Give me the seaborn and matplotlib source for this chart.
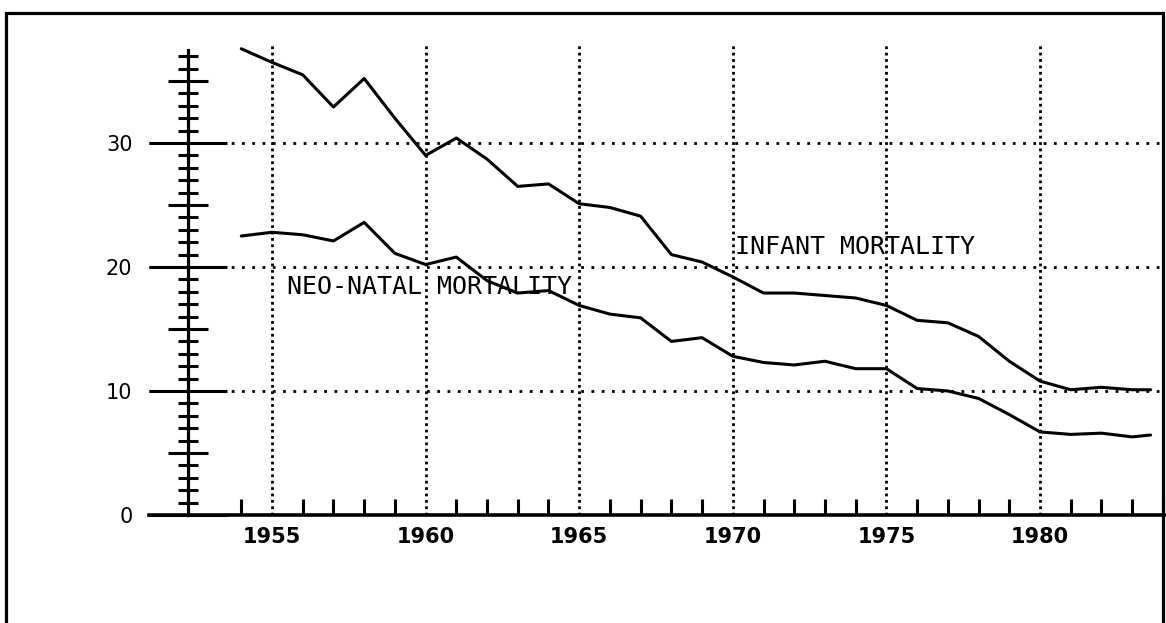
import matplotlib
matplotlib.use("Agg")
import matplotlib.pyplot as plt
import seaborn as sns
import pandas as pd
from matplotlib.patches import Rectangle

# ---------------- data ----------------
years = [1954, 1955, 1956, 1957, 1958, 1959, 1960, 1961, 1962, 1963,
         1964, 1965, 1966, 1967, 1968, 1969, 1970, 1971, 1972, 1973,
         1974, 1975, 1976, 1977, 1978, 1979, 1980, 1981, 1982, 1983, 1983.6]
infant = [37.6, 36.5, 35.5, 32.9, 35.2, 32.0, 29.0, 30.4, 28.7, 26.5,
          26.7, 25.1, 24.8, 24.1, 21.0, 20.4, 19.2, 17.9, 17.9, 17.7,
          17.5, 16.9, 15.7, 15.5, 14.4, 12.4, 10.8, 10.1, 10.3, 10.1, 10.1]
neonatal = [22.5, 22.8, 22.6, 22.1, 23.6, 21.1, 20.2, 20.8, 18.9, 17.9,
            18.1, 16.9, 16.2, 15.9, 14.0, 14.3, 12.8, 12.3, 12.1, 12.4,
            11.8, 11.8, 10.2, 10.0, 9.4, 8.1, 6.7, 6.5, 6.6, 6.3, 6.45]

y_major = [0, 10, 20, 30]
y_medium = [5, 15, 25, 35]
y_minor = [v for v in range(1, 38) if v % 5 != 0]
x_major = [1955, 1960, 1965, 1970, 1975, 1980]
x_labels = ["1955", "1960", "1965", "1970", "1975", "1980"]
x_minor = [y for y in range(1954, 1985) if y % 5 != 0]

label_infant = "INFANT MORTALITY"
label_neo = "NEO-NATAL MORTALITY"

df = pd.DataFrame({
    "year": years * 2,
    "rate": infant + neonatal,
    "series": [label_infant] * len(years) + [label_neo] * len(years),
})

# ---------------- figure ----------------
sns.set_theme(style="white")
plt.rcParams["font.family"] = ["DejaVu Sans"]

W, H = 1166, 623
fig = plt.figure(figsize=(W / 100, H / 100), dpi=100)
fig.patch.set_facecolor("white")

left_px, right_px, bottom_px, top_px = 149, 1166, 515, 43
ax = fig.add_axes([left_px / W, 1 - bottom_px / H,
                   (right_px - left_px) / W, (bottom_px - top_px) / H])
ax.set_facecolor("white")

ppy = 30.72  # pixels per year
ax.set_xlim(1955 - (272 - left_px) / ppy, 1955 + (right_px - 272) / ppy)
ppv = 12.4   # pixels per unit
ax.set_ylim(0, (bottom_px - top_px) / ppv)

sns.lineplot(data=df, x="year", y="rate", hue="series",
             palette={label_infant: "black", label_neo: "black"},
             linewidth=2.2, legend=False, ax=ax, zorder=5)

# spines
yaxis_x = 1955 - (272 - 188) / ppy
for s in ["top", "right"]:
    ax.spines[s].set_visible(False)
ax.spines["left"].set_position(("data", yaxis_x))
ax.spines["left"].set_bounds(0, 37.5)
ax.spines["left"].set_linewidth(2.3)
ax.spines["left"].set_color("black")
ax.spines["bottom"].set_linewidth(2.6)
ax.spines["bottom"].set_color("black")
ax.spines["left"].set_zorder(6)
ax.spines["bottom"].set_zorder(6)

# y ticks
ax.set_yticks(y_major)
ax.set_yticklabels([str(v) for v in y_major])
ax.set_yticks(y_minor, minor=True)
ax.tick_params(axis="y", which="major", direction="inout", length=56,
               width=2.2, color="black", pad=12, labelsize=15,
               labelcolor="black", left=True)
ax.tick_params(axis="y", which="minor", direction="inout", length=14.4,
               width=2.2, color="black", left=True)
ax.hlines(y_medium, yaxis_x - 20 / ppy, yaxis_x + 20 / ppy,
          color="black", linewidth=2.2, zorder=6)

# x ticks
ax.set_xticks(x_major)
ax.set_xticklabels(x_labels)
ax.set_xticks(x_minor, minor=True)
ax.tick_params(axis="x", which="major", length=0, pad=8.5)
ax.tick_params(axis="x", which="minor", direction="in", length=11.5,
               width=2.2, color="black", bottom=True)
for t in ax.get_xticklabels():
    t.set_family(["DejaVu Sans"])
    t.set_fontweight("bold")
    t.set_fontsize(15)
    t.set_color("black")

# dotted grids
ax.xaxis.grid(True, which="major", color="black", linewidth=2.0,
              linestyle=(0, (1, 1.3)))
ax.yaxis.grid(True, which="major", color="black", linewidth=2.0,
              linestyle=(0, (1, 2.7)))
ax.set_axisbelow(True)
ax.set_xlabel("")
ax.set_ylabel("")

# series labels
ax.text(1955 + (735 - 272) / ppy, (515 - 247) / ppv, label_infant,
        family="DejaVu Sans Mono", fontsize=18, va="center", ha="left",
        color="black", zorder=7)
ax.text(1955 + (287 - 272) / ppy, (515 - 287) / ppv, label_neo,
        family="DejaVu Sans Mono", fontsize=18, va="center", ha="left",
        color="black", zorder=7)

# outer frame
fig.add_artist(Rectangle((6 / W, -0.1), (1163 - 6) / W, 1.1 - 13 / H,
                         transform=fig.transFigure, fill=False,
                         edgecolor="black", linewidth=2.3, clip_on=False))

fig.savefig("out.png", dpi=100, facecolor="white")
